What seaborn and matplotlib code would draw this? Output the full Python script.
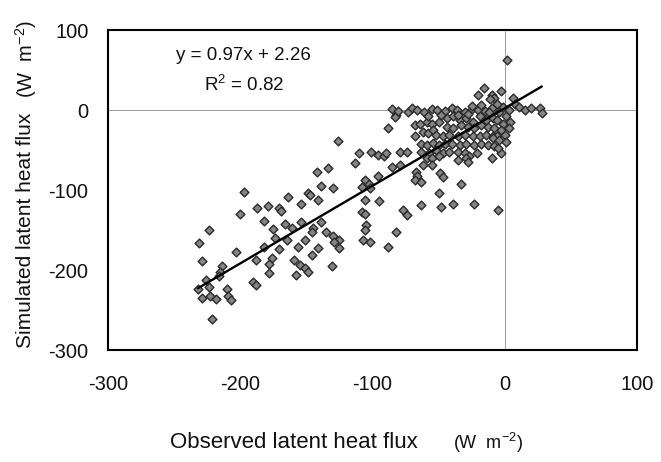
import matplotlib
matplotlib.use("Agg")
import matplotlib.pyplot as plt
import seaborn as sns
import pandas as pd
import numpy as np

# Observed (x) and simulated (y) latent heat flux, W m-2
obs = [
    # lower-left cloud
    -197, -200, -224, -231, -203, -229, -214, -215, -216, -226, -224, -232,
    -190, -188, -210, -229, -223, -218, -209, -207, -221,
    -126, -110, -101, -96, -91, -113, -134, -142, -96, -106, -103, -108,
    -139, -130, -149, -147, -164, -141, -154, -106, -95, -179, -171, -169,
    -187, -108, -106, -182, -166, -154, -139, -145, -146, -175, -161, -105,
    -106, -135, -174, -165, -151, -130, -125, -129, -107, -102, -182, -171,
    -156, -141, -125, -88, -188, -176, -178, -159, -155, -146, -131, -151,
    -149, -178, -158,
    # middle
    -82, -83, -73, -88, -79, -74, -85, -79, -102, -82,
    -85, -81, -70, -66, -61, -55, -51, -45, -40, -36, -30, -25, -20, -15,
    -68, -64, -59, -55, -50, -68, -62, -58, -54, -52,
    -44, -39, -34, -29, -24, -19, -14, -9,
    -44, -39, -33, -28, -23, -18, -13,
    -47, -42, -35, -30, -24, -19, -14, -9,
    -63, -59, -54, -50, -45, -40, -34, -29, -23, -18, -13,
    -63, -57, -52, -47, -42, -35, -30, -27, -21,
    -35, -29, -28, -90, -59, -55, -50, -62, -55,
    -67, -66, -68, -63, -49, -47, -33, -50, -48, -39, -23, -63, -77, -74,
    # near zero
    2, -3, -10, -8, 6, 8, 11, 15, 20, 27, 28, -1, 3, -4, 1, 4, -1, -6,
    -8, -3, 3, -6, 0, -9, -4, 1, -3, -5, -20, -16, -11,
    -25, -18, -10, -6, -12, -28, -35, -48, -58, -8, -5, -10,
]
sim = [
    -102, -130, -150, -166, -177, -189, -195, -202, -208, -213, -221, -224,
    -215, -219, -224, -235, -232, -236, -232, -237, -261,
    -39, -54, -53, -56, -58, -66, -72, -77, -83, -88, -92, -96,
    -95, -98, -104, -106, -109, -112, -117, -112, -114, -120, -123, -126,
    -123, -127, -130, -139, -142, -140, -140, -148, -152, -149, -148, -144,
    -150, -152, -160, -163, -163, -158, -163, -165, -163, -165, -171, -174,
    -171, -172, -173, -171, -188, -185, -193, -188, -194, -181, -195, -198,
    -202, -204, -206,
    -6, -9, -2, -22, -53, -53, -71, -69, -97, -153,
    1, -1, 2, 0, -2, 1, 0, -1, 2, 0, -2, 1, 0, -1,
    -19, -17, -15, -17, -15, -33, -27, -29, -25, -31,
    -10, -8, -13, -10, -15, -8, -13, -10,
    -21, -23, -19, -21, -23, -19, -21,
    -33, -31, -33, -31, -33, -33, -31, -33,
    -42, -44, -41, -44, -42, -42, -44, -42, -44, -42, -44,
    -52, -54, -50, -54, -52, -52, -54, -58, -54,
    -63, -60, -65, -54, -60, -60, -58, -69, -69,
    -77, -83, -88, -90, -79, -84, -92, -104, -121, -117, -117, -119, -125, -131,
    63, 24, 19, 15, 15, 8, 4, 0, 2, 2, -4, 4, 0, -2, -8, -15, -17, -13,
    -23, -25, -23, -33, -31, -35, -38, -40, -54, -125, 19, 27, 14,
    5, 6, 3, 8, -3, -5, -6, -6, -8, -45, -48, -60,
]

slope = 0.97
intercept = 2.26
r_squared = 0.82
x_ticks = [-300, -200, -100, 0, 100]
y_ticks = [100, 0, -100, -200, -300]

sns.set_theme(style="white")
plt.rcParams['font.family'] = ['Liberation Sans', 'DejaVu Sans']
plt.rcParams['axes.unicode_minus'] = False
plt.rcParams['mathtext.fontset'] = 'custom'
plt.rcParams['mathtext.rm'] = 'Liberation Sans'
plt.rcParams['mathtext.it'] = 'Liberation Sans:italic'

fig = plt.figure(figsize=(6.61, 4.62), dpi=100)
fig.patch.set_facecolor('white')
ax = fig.add_axes([108 / 661, 1 - 350 / 462, 529 / 661, 320 / 462])

df = pd.DataFrame({'obs': obs, 'sim': sim})
ax.axhline(0, color='#9a9a9a', lw=0.7, zorder=1)
ax.axvline(0, color='#9a9a9a', lw=0.7, zorder=1)
sns.scatterplot(data=df, x='obs', y='sim', marker='D', s=20, color='#858585',
                edgecolor='#2a2a2a', linewidth=1.0, ax=ax, zorder=3, legend=False)

xl = np.array([min(obs), max(obs)], dtype=float)
fit = pd.DataFrame({'x': xl, 'y': slope * xl + intercept})
sns.lineplot(data=fit, x='x', y='y', color='black', lw=1.7, ax=ax, zorder=4)

ax.set_xlim(-300, 100)
ax.set_ylim(-300, 100)
ax.set_xticks(x_ticks)
ax.set_yticks(y_ticks)
ax.set_xticklabels([str(t) for t in x_ticks])
ax.set_yticklabels([str(t) for t in y_ticks])
ax.tick_params(axis='x', direction='in', length=4, width=0.7, color='#666666',
               labelsize=14.5, pad=18, labelcolor='#111111')
ax.tick_params(axis='y', direction='in', length=4, width=0.7, color='#666666',
               labelsize=14.5, pad=14, labelcolor='#111111')
ax.set_xlabel('')
ax.set_ylabel('')
for sp in ax.spines.values():
    sp.set_visible(True)
    sp.set_color('black')
    sp.set_linewidth(1.5)

fig.text(176 / 661, 1 - 55 / 462, f'y = {slope:.2f}x + {intercept:.2f}',
         fontsize=13.5, va='center', ha='left', color='#111111')
fig.text(204 / 661, 1 - 85 / 462, f'R$^2$ = {r_squared:.2f}',
         fontsize=13.5, va='center', ha='left', color='#111111')

fig.text(170 / 661, 1 - 443 / 462, 'Observed latent heat flux',
         fontsize=16, va='center', ha='left', color='#111111')
fig.text(453 / 661, 1 - 443 / 462, '(W  m$^{-2}$)',
         fontsize=13, va='center', ha='left', color='#111111')
fig.text(26 / 661, 1 - 348 / 462, 'Simulated latent heat flux',
         fontsize=15, rotation=90, va='bottom', ha='center', color='#111111')
fig.text(26 / 661, 1 - 98 / 462, '(W  m$^{-2}$)',
         fontsize=14.5, rotation=90, va='bottom', ha='center', color='#111111')

fig.savefig('out.png', dpi=100, facecolor='white')
